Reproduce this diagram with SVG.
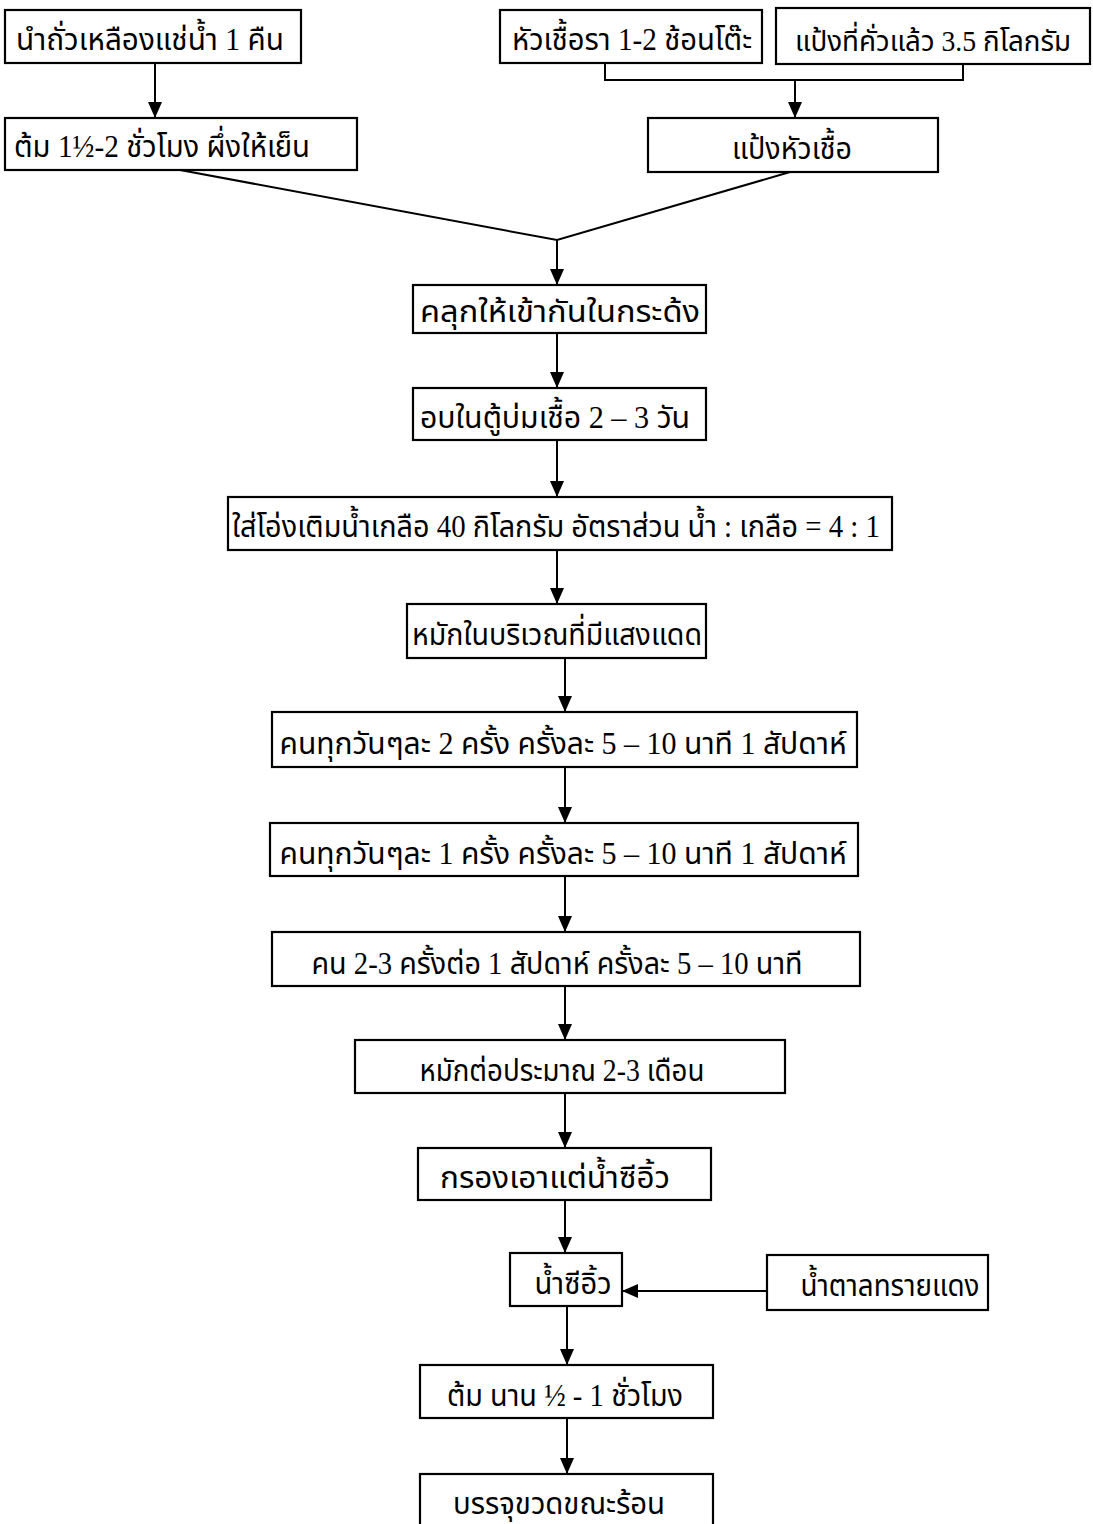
<svg xmlns="http://www.w3.org/2000/svg" width="1093" height="1524" viewBox="0 0 1093 1524">
<style>
.box{fill:#fff;stroke:#000;stroke-width:2.2}
.t{font-family:"Liberation Serif","Noto Sans Thai","Noto Serif Thai",serif;font-size:31px;fill:#000;text-anchor:middle}
.c{fill:none;stroke:#000;stroke-width:2}
</style>
<defs>
<marker id="ah" viewBox="0 0 16 14" refX="16" refY="7" markerWidth="16" markerHeight="14" markerUnits="userSpaceOnUse" orient="auto">
<path d="M0,0 L16,7 L0,14 Z" fill="#000"/>
</marker>
</defs>
<rect width="1093" height="1524" fill="#fff"/>
<g id="connectors">
<path class="c" d="M155,63 V118" marker-end="url(#ah)"/>
<path class="c" d="M605,63 V80 H963 V64"/>
<path class="c" d="M795,80 V118" marker-end="url(#ah)"/>
<path class="c" d="M180,170 L557,240 L790,172"/>
<path class="c" d="M557,240 V285" marker-end="url(#ah)"/>
<path class="c" d="M557,333 V388" marker-end="url(#ah)"/>
<path class="c" d="M557,440 V497" marker-end="url(#ah)"/>
<path class="c" d="M557,550 V604" marker-end="url(#ah)"/>
<path class="c" d="M565,658 V712" marker-end="url(#ah)"/>
<path class="c" d="M565,767 V823" marker-end="url(#ah)"/>
<path class="c" d="M565,876 V932" marker-end="url(#ah)"/>
<path class="c" d="M565,986 V1040" marker-end="url(#ah)"/>
<path class="c" d="M565,1093 V1148" marker-end="url(#ah)"/>
<path class="c" d="M565,1200 V1253" marker-end="url(#ah)"/>
<path class="c" d="M767,1291 H622" marker-end="url(#ah)"/>
<path class="c" d="M567,1306 V1365" marker-end="url(#ah)"/>
<path class="c" d="M567,1418 V1474" marker-end="url(#ah)"/>
</g>
<g id="n1"><rect class="box" x="5" y="10" width="296" height="53"/><text class="t" x="150" y="50" textLength="268" lengthAdjust="spacingAndGlyphs">นำถั่วเหลืองแช่น้ำ 1 คืน</text></g>
<g id="n2"><rect class="box" x="5" y="118" width="352" height="52"/><text class="t" x="162" y="157" textLength="296" lengthAdjust="spacingAndGlyphs">ต้ม 1½-2 ชั่วโมง ผึ่งให้เย็น</text></g>
<g id="n3"><rect class="box" x="500" y="10" width="262" height="53"/><text class="t" x="632" y="50" textLength="240" lengthAdjust="spacingAndGlyphs">หัวเชื้อรา 1-2 ช้อนโต๊ะ</text></g>
<g id="n4"><rect class="box" x="776" y="8" width="314" height="56"/><text class="t" x="933" y="51" textLength="276" lengthAdjust="spacingAndGlyphs" style="font-size:29px">แป้งที่คั่วแล้ว 3.5 กิโลกรัม</text></g>
<g id="n5"><rect class="box" x="648" y="118" width="290" height="54"/><text class="t" x="792" y="159" textLength="120" lengthAdjust="spacingAndGlyphs">แป้งหัวเชื้อ</text></g>
<g id="n6"><rect class="box" x="413" y="285" width="293" height="48"/><text class="t" x="560" y="322" textLength="280" lengthAdjust="spacingAndGlyphs">คลุกให้เข้ากันในกระด้ง</text></g>
<g id="n7"><rect class="box" x="413" y="388" width="293" height="52"/><text class="t" x="555" y="428" textLength="270" lengthAdjust="spacingAndGlyphs">อบในตู้บ่มเชื้อ 2 – 3 วัน</text></g>
<g id="n8"><rect class="box" x="228" y="497" width="664" height="53"/><text class="t" x="556" y="537" textLength="648" lengthAdjust="spacingAndGlyphs">ใส่โอ่งเติมน้ำเกลือ 40 กิโลกรัม อัตราส่วน น้ำ : เกลือ = 4 : 1</text></g>
<g id="n9"><rect class="box" x="407" y="604" width="299" height="54"/><text class="t" x="557" y="645" textLength="290" lengthAdjust="spacingAndGlyphs">หมักในบริเวณที่มีแสงแดด</text></g>
<g id="n10"><rect class="box" x="272" y="712" width="585" height="55"/><text class="t" x="563" y="754" textLength="567" lengthAdjust="spacingAndGlyphs">คนทุกวันๆละ 2 ครั้ง ครั้งละ 5 – 10 นาที 1 สัปดาห์</text></g>
<g id="n11"><rect class="box" x="270" y="823" width="588" height="53"/><text class="t" x="563" y="864" textLength="567" lengthAdjust="spacingAndGlyphs">คนทุกวันๆละ 1 ครั้ง ครั้งละ 5 – 10 นาที 1 สัปดาห์</text></g>
<g id="n12"><rect class="box" x="272" y="932" width="588" height="54"/><text class="t" x="557" y="974" textLength="491" lengthAdjust="spacingAndGlyphs">คน 2-3 ครั้งต่อ 1 สัปดาห์ ครั้งละ 5 – 10 นาที</text></g>
<g id="n13"><rect class="box" x="355" y="1040" width="430" height="53"/><text class="t" x="562" y="1081" textLength="285" lengthAdjust="spacingAndGlyphs">หมักต่อประมาณ 2-3 เดือน</text></g>
<g id="n14"><rect class="box" x="418" y="1148" width="293" height="52"/><text class="t" x="555" y="1188" textLength="230" lengthAdjust="spacingAndGlyphs">กรองเอาแต่น้ำซีอิ้ว</text></g>
<g id="n15"><rect class="box" x="510" y="1253" width="112" height="53"/><text class="t" x="573" y="1294" textLength="77" lengthAdjust="spacingAndGlyphs">น้ำซีอิ้ว</text></g>
<g id="n16"><rect class="box" x="767" y="1255" width="221" height="55"/><text class="t" x="890" y="1296" textLength="179" lengthAdjust="spacingAndGlyphs">น้ำตาลทรายแดง</text></g>
<g id="n17"><rect class="box" x="420" y="1365" width="293" height="53"/><text class="t" x="565" y="1406" textLength="236" lengthAdjust="spacingAndGlyphs">ต้ม นาน ½ - 1 ชั่วโมง</text></g>
<g id="n18"><rect class="box" x="420" y="1474" width="293" height="60"/><text class="t" x="559" y="1514" textLength="212" lengthAdjust="spacingAndGlyphs">บรรจุขวดขณะร้อน</text></g>
</svg>
